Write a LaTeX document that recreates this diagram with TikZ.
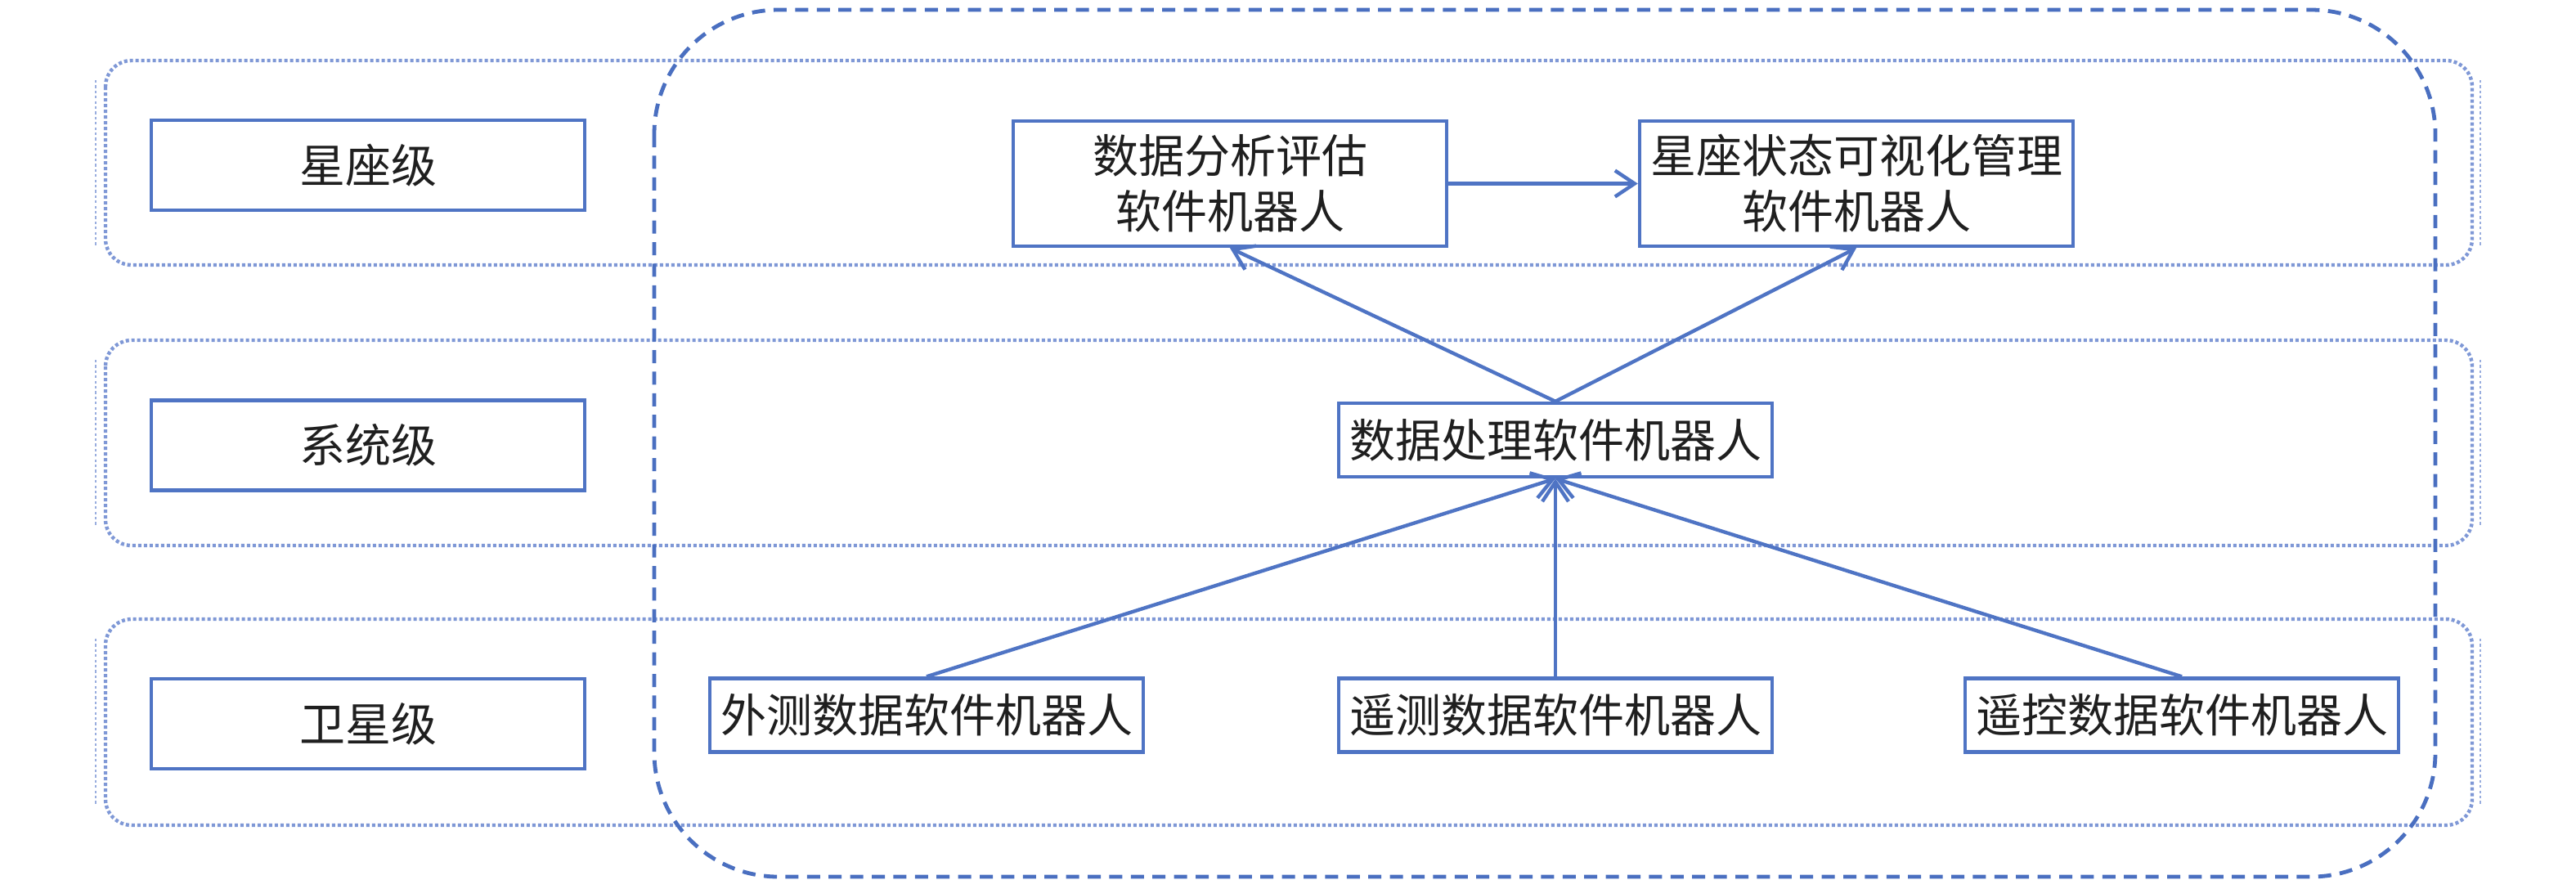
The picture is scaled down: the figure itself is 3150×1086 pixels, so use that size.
\documentclass[tikz,border=0pt]{standalone}
\usepackage{fontspec}
\newfontfamily\cjk{Noto Sans CJK SC}
\usetikzlibrary{arrows.meta}
\definecolor{lineblue}{HTML}{4F74C4}
\definecolor{dashblue}{HTML}{4A6FC0}
\definecolor{bandblue}{HTML}{7F98D6}
\begin{document}
\begin{tikzpicture}[x=0.25pt,y=-0.25pt,
  box/.style={draw=lineblue,line width=1.1pt,fill=white,minimum width=132.5pt,inner sep=0pt,align=center,
    font=\cjk\fontsize{14pt}{17pt}\selectfont,text=black!88},
  band/.style={draw=bandblue,line width=1.1pt,dash pattern=on 1pt off 0.75pt,rounded corners=8pt},
  bandedge/.style={draw=bandblue!80,line width=0.4pt,dash pattern=on 0.8pt off 0.8pt},
  conn/.style={draw=lineblue,line width=1.1pt,-{Straight Barb[length=6pt,width=8pt,line width=1.1pt]}},
  frame/.style={draw=dashblue,line width=1.2pt,dash pattern=on 4pt off 2.6pt,rounded corners=38pt}]
\useasboundingbox (0,0) rectangle (3150,1086);

% level bands
\draw[band] (129,74) rectangle (3023,324);
\draw[band] (129,416) rectangle (3023,667);
\draw[band] (129,757) rectangle (3023,1009);
\foreach \t/\b in {98/300,440/643,781/985}{
  \draw[bandedge] (117,\t) -- (117,\b);
  \draw[bandedge] (3033,\t) -- (3033,\b);
}

% dashed frame
\draw[frame] (800,12) rectangle (2978,1072);

% level labels
\node[box,minimum height=27.5pt] (lv1) at (450,202) {星座级};
\node[box,minimum height=27.5pt] (lv2) at (450,544.5) {系统级};
\node[box,minimum height=27.5pt] (lv3) at (450,885) {卫星级};

% robots
\node[box,minimum height=38.25pt] (ana) at (1504,224.5) {数据分析评估\\软件机器人};
\node[box,minimum height=38.25pt] (vis) at (2270,224.5) {星座状态可视化管理\\软件机器人};
\node[box,minimum height=22.5pt] (proc) at (1902,538) {数据处理软件机器人};
\node[box,minimum height=22.5pt] (ext) at (1133,874.5) {外测数据软件机器人};
\node[box,minimum height=22.5pt] (tm) at (1902,874.5) {遥测数据软件机器人};
\node[box,minimum height=22.5pt] (tc) at (2668,874.5) {遥控数据软件机器人};

% connectors
\draw[conn] (ana.east) -- (vis.west);
\draw[conn] (proc.north) -- (ana.south);
\draw[conn] (proc.north) -- (vis.south);
\draw[conn] (ext.north) -- (proc.south);
\draw[conn] (tm.north) -- (proc.south);
\draw[conn] (tc.north) -- (proc.south);
\end{tikzpicture}
\end{document}
